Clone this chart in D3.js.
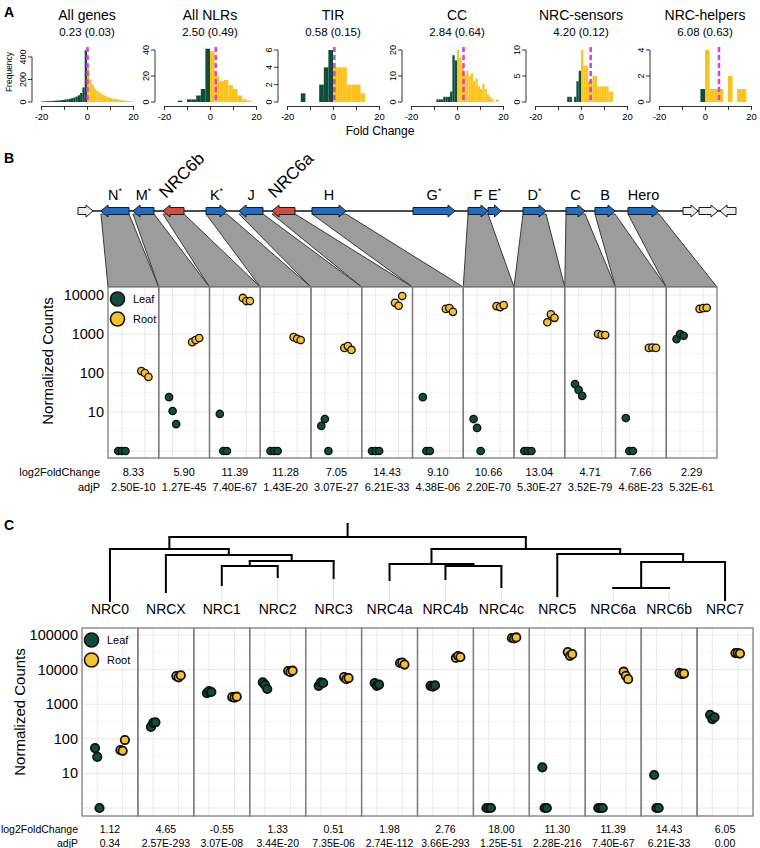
<!DOCTYPE html>
<html>
<head>
<meta charset="utf-8">
<script src="https://cdn.jsdelivr.net/npm/d3@7"></script>
<style>
body { margin: 0; background: #fff; }
text { font-family: "Liberation Sans", Arial, sans-serif; }
</style>
</head>
<body>
<script>
// ---------- panel A: fold change histograms ----------
var histTitles = ["All genes", "All NLRs", "TIR", "CC", "NRC-sensors", "NRC-helpers"];
var histSubs = ["0.23 (0.03)", "2.50 (0.49)", "0.58 (0.15)", "2.84 (0.64)", "4.20 (0.12)", "6.08 (0.63)"];
var histMeans = [0.23, 2.50, 0.58, 2.84, 4.20, 6.08];
var histYTicks = [[0, 200, 400], [0, 20, 40], [0, 2, 4, 6], [0, 10, 20], [0, 5, 10], [0, 2, 4]];
var histYTop = [462, 40, 6, 20, 10, 4];
var histBinStart = [-20, -14, -14, -9, -6, -2];
var histBinWidth = [1, 2, 2, 1, 1, 2];
var histCounts = [
  [5, 6, 7, 8, 9, 11, 12, 14, 16, 18, 21, 24, 28, 33, 40, 48, 60, 80, 130, 460,
   300, 200, 150, 120, 100, 85, 70, 60, 50, 42, 36, 30, 26, 22, 18, 15, 12, 10, 8, 6],
  [1, 0, 2, 2, 5, 10, 41, 39, 20, 16, 17, 13, 10, 5, 2, 1],
  [1, 0, 0, 0, 2, 4, 6, 4, 4, 4, 2, 2, 2, 1],
  [1, 1, 1, 2, 2, 2, 4, 18, 16, 20, 17, 14, 10, 12, 10, 11, 8, 9, 6, 5, 7, 5, 3, 2, 1, 0, 1],
  [1, 1, 0, 1, 4, 6, 10, 7, 7, 4, 4, 5, 5, 3, 3, 3, 3, 3, 2, 2],
  [1, 4, 1, 1, 1, 0, 2, 0, 1, 1]
];
var histXTicks = [-20, -10, 0, 10, 20];

// ---------- panel B: gene cluster ----------
var geneNames = ["", "N", "M", "NRC6b", "K", "J", "NRC6a", "H", "G", "F", "E", "D", "C", "B", "Hero", "", "", ""];
var geneStar = [0, 1, 1, 0, 1, 0, 0, 0, 1, 0, 1, 1, 0, 0, 0, 0, 0, 0];
var geneStart = [0, 2.3, 5.5, 8.5, 12.8, 16.1, 19.4, 23.4, 33.5, 39.0, 41.0, 44.5, 48.8, 51.7, 55.0, 60.5, 62.1, 64.2];
var geneEnd = [1.5, 5.1, 7.6, 10.6, 14.9, 18.5, 21.7, 26.8, 37.7, 41.0, 42.3, 46.8, 50.7, 53.7, 58.1, 62.0, 64.0, 65.8];
var geneStrand = [1, -1, -1, -1, 1, -1, -1, 1, 1, 1, 1, 1, 1, 1, 1, 1, 1, -1];
var geneType = ["other", "nlr", "nlr", "nrc", "nlr", "nlr", "nrc", "nlr", "nlr", "nlr", "nlr", "nlr", "nlr", "nlr", "nlr", "other", "other", "other"];
var geneFacet = [-1, 0, 1, 2, 3, 4, 5, 6, -1, 7, -1, 8, 9, 10, 11, -1, -1, -1];
var locusLength = 65.8;

var bNames = ["N", "M", "NRC6b", "K", "J", "NRC6a", "H", "F", "D", "C", "B", "Hero"];
var bLeaf = [[1, 1, 1], [24, 10.6, 4.9], [8.9, 1, 1], [1, 1, 1], [4.4, 6.6, 1], [1, 1, 1],
             [24, 1, 1], [6.6, 3.9, 1], [1, 1, 1], [52, 37, 26], [7, 1, 1], [740, 1000, 900]];
var bRoot = [[112, 100, 79], [620, 700, 790], [8400, 7000, 7000], [830, 750, 700], [440, 490, 390],
             [6300, 5300, 9400], [4400, 4600, 3700], [5200, 4900, 5500], [2000, 3200, 2600],
             [1000, 940, 940], [440, 450, 440], [4400, 4600, 4700]];
var bLfc = ["8.33", "5.90", "11.39", "11.28", "7.05", "14.43", "9.10", "10.66", "13.04", "4.71", "7.66", "2.29"];
var bPadj = ["2.50E-10", "1.27E-45", "7.40E-67", "1.43E-20", "3.07E-27", "6.21E-33", "4.38E-06", "2.20E-70", "5.30E-27", "3.52E-79", "4.68E-23", "5.32E-61"];
var bTicks = [10, 100, 1000, 10000];

// ---------- panel C: NRC helpers ----------
var cNames = ["NRC0", "NRCX", "NRC1", "NRC2", "NRC3", "NRC4a", "NRC4b", "NRC4c", "NRC5", "NRC6a", "NRC6b", "NRC7"];
var cLeaf = [[54, 30, 1], [220, 290, 300], [2100, 2400, 2250], [4300, 3600, 2750], [3400, 4300, 4100],
             [4100, 3400, 3700], [3400, 3200, 3500], [1, 1, 1], [15, 1, 1], [1, 1, 1], [9, 1, 1], [490, 370, 420]];
var cRoot = [[47, 45, 92], [6500, 6000, 6800], [1600, 1550, 1650], [9100, 8500, 9300], [6100, 5300, 5700],
             [15500, 16000, 14000], [21700, 24700, 23000], [82000, 80000, 85000], [32000, 25000, 28000],
             [8700, 6600, 5300], [8000, 7400, 7700], [30000, 30000, 29000]];
var cLfc = ["1.12", "4.65", "-0.55", "1.33", "0.51", "1.98", "2.76", "18.00", "11.30", "11.39", "14.43", "6.05"];
var cPadj = ["0.34", "2.57E-293", "3.07E-08", "3.44E-20", "7.35E-06", "2.74E-112", "3.66E-293", "1.25E-51", "2.28E-216", "7.40E-67", "6.21E-33", "0.00"];
var cTicks = [10, 100, 1000, 10000, 100000];

// tree: d = depth of each node (root at top)
var treeData = {d: 14, children: [
  {d: 26, children: [
    {name: "NRC0", d: 79},
    {d: 32, children: [
      {name: "NRCX", d: 70},
      {d: 38, children: [
        {d: 43, children: [{name: "NRC1", d: 63}, {name: "NRC2", d: 55}]},
        {name: "NRC3", d: 56}]}]}]},
  {d: 26, children: [
    {d: 41, children: [
      {name: "NRC4a", d: 58},
      {d: 43, children: [{name: "NRC4b", d: 57}, {name: "NRC4c", d: 65}]}]},
    {d: 31, children: [
      {name: "NRC5", d: 74},
      {d: 39, children: [
        {d: 65, children: [{name: "NRC6a", d: 65}, {name: "NRC6b", d: 65}]},
        {name: "NRC7", d: 78}]}]}]}]};

var leafCol = "#0f4d3d";
var rootCol = "#f6c12b";

var svg = d3.select("body").append("svg")
    .attr("width", 760)
    .attr("height", 848);

function letter(t, x, y) {
  svg.append("text").attr("x", x).attr("y", y).text(t)
    .attr("font-size", 14).attr("font-weight", "bold");
}

// ================= A =================
letter("A", 4, 17);
var histLeft = [41, 164, 287, 411, 535, 659];
var histW = 92;

histTitles.forEach(function (title, i) {
  var x = d3.scaleLinear().domain([-20, 20]).range([histLeft[i], histLeft[i] + histW]);
  var y = d3.scaleLinear().domain([0, histYTop[i]]).range([102, 50]);
  var g = svg.append("g");
  var w = histBinWidth[i];

  g.selectAll("rect")
    .data(histCounts[i])
    .enter()
    .append("rect")
    .attr("x", function (d, j) { return x(histBinStart[i] + j * w); })
    .attr("width", x(w) - x(0))
    .attr("y", function (d) { return y(d); })
    .attr("height", function (d) { return y(0) - y(d); })
    .attr("fill", function (d, j) { return histBinStart[i] + j * w < 0 ? leafCol : "#fbc31c"; });

  g.append("line")
    .attr("x1", x(histMeans[i])).attr("x2", x(histMeans[i]))
    .attr("y1", 47).attr("y2", y(0))
    .attr("stroke", "#e33be3").attr("stroke-width", 2.6)
    .attr("stroke-dasharray", "5,3");

  var xa = g.append("g")
    .attr("transform", "translate(0,106)")
    .call(d3.axisBottom(x).tickValues(histXTicks)
      .tickFormat(function (d) { return d % 20 === 0 ? d : ""; })
      .tickSize(4).tickSizeOuter(0));
  xa.selectAll("text").attr("font-size", 9.5).attr("font-family", "Liberation Sans, Arial");
  xa.selectAll("path, line").attr("stroke-width", 0.8);

  var ax = histLeft[i] - 9;
  var ticks = histYTicks[i];
  g.append("line").attr("x1", ax).attr("x2", ax)
    .attr("y1", y(0)).attr("y2", y(ticks[ticks.length - 1]))
    .attr("stroke", "#000").attr("stroke-width", 0.8);
  g.selectAll(".yt").data(ticks).enter().append("line")
    .attr("x1", ax - 4).attr("x2", ax)
    .attr("y1", function (d) { return y(d); }).attr("y2", function (d) { return y(d); })
    .attr("stroke", "#000").attr("stroke-width", 0.8);
  g.selectAll(".yl").data(ticks).enter().append("text")
    .attr("transform", function (d) { return "translate(" + (ax - 6) + "," + y(d) + ") rotate(-90)"; })
    .attr("text-anchor", "middle").attr("font-size", 9)
    .text(function (d) { return d; });

  g.append("text").attr("x", x(0)).attr("y", 20)
    .attr("text-anchor", "middle").attr("font-size", 14).text(title);
  g.append("text").attr("x", x(0)).attr("y", 36)
    .attr("text-anchor", "middle").attr("font-size", 11.5).text(histSubs[i]);
});

svg.append("text").attr("transform", "translate(12,72) rotate(-90)")
  .attr("text-anchor", "middle").attr("font-size", 8.5).text("Frequency");
svg.append("text").attr("x", 380).attr("y", 135)
  .attr("text-anchor", "middle").attr("font-size", 12).text("Fold Change");

// ================= shared dot panel =================
function dotPanel(o) {
  var band = d3.scaleBand().domain(o.names).range([o.left, o.right]);
  var bw = band.bandwidth();
  var cond = d3.scaleOrdinal().domain(["Leaf", "Root"]).range([0.273, 0.727]);
  var y = d3.scaleLog().domain(o.yDomain).range(o.yRange);
  var g = svg.append("g");
  var majors = [1].concat(o.ticks);
  var minors = majors.map(function (v) { return v * Math.sqrt(10); });
  var inside = function (v) { return y(v) > o.top && y(v) < o.bottom; };

  o.names.forEach(function (n) {
    var x0 = band(n);
    g.append("rect").attr("x", x0).attr("y", o.top).attr("width", bw)
      .attr("height", o.bottom - o.top).attr("fill", "#fff");
    minors.filter(inside).forEach(function (v) {
      g.append("line").attr("x1", x0).attr("x2", x0 + bw).attr("y1", y(v)).attr("y2", y(v))
        .attr("stroke", "#f2f2f2").attr("stroke-width", 0.6);
    });
    majors.filter(inside).forEach(function (v) {
      g.append("line").attr("x1", x0).attr("x2", x0 + bw).attr("y1", y(v)).attr("y2", y(v))
        .attr("stroke", "#e6e6e6").attr("stroke-width", 0.9);
    });
    ["Leaf", "Root"].forEach(function (c) {
      var xc = x0 + cond(c) * bw;
      g.append("line").attr("x1", xc).attr("x2", xc).attr("y1", o.top).attr("y2", o.bottom)
        .attr("stroke", "#e6e6e6").attr("stroke-width", 0.9);
    });
  });
  o.names.forEach(function (n) {
    g.append("rect").attr("x", band(n)).attr("y", o.top).attr("width", bw)
      .attr("height", o.bottom - o.top).attr("fill", "none")
      .attr("stroke", "#7d7d7d").attr("stroke-width", 1.3);
  });

  var jit = o.jitter;
  function drawSet(vals, c, col) {
    o.names.forEach(function (n, i) {
      g.selectAll(null).data(vals[i]).enter().append("circle")
        .attr("cx", function (d, k) { return band(n) + (cond(c) + jit[k]) * bw; })
        .attr("cy", function (d) { return y(d); })
        .attr("r", o.r)
        .attr("fill", col).attr("stroke", "#111").attr("stroke-width", o.sw);
    });
  }
  drawSet(o.leaf, "Leaf", leafCol);
  drawSet(o.root, "Root", rootCol);

  g.selectAll(".tk").data(o.ticks).enter().append("text")
    .attr("x", o.left - 4).attr("y", function (d) { return y(d) + 5; })
    .attr("text-anchor", "end").attr("font-size", 14.5)
    .text(function (d) { return d; });
  g.append("text")
    .attr("transform", "translate(" + o.labelX + "," + o.labelY + ") rotate(-90)")
    .attr("text-anchor", "middle").attr("font-size", 15).text("Normalized Counts");

  // legend
  [["Leaf", leafCol], ["Root", rootCol]].forEach(function (e, k) {
    var ly = o.top + 12 + k * 20;
    g.append("circle").attr("cx", o.left + 9.5).attr("cy", ly).attr("r", 7)
      .attr("fill", e[1]).attr("stroke", "#111").attr("stroke-width", 1.6);
    g.append("text").attr("x", o.left + 25).attr("y", ly + 4)
      .attr("font-size", 11).text(e[0]);
  });

  // stats rows
  g.append("text").attr("x", o.statX).attr("y", o.statY1).attr("text-anchor", "end")
    .attr("font-size", o.statFont).text("log2FoldChange");
  g.append("text").attr("x", o.statX).attr("y", o.statY2).attr("text-anchor", "end")
    .attr("font-size", o.statFont).text("adjP");
  o.names.forEach(function (n, i) {
    g.append("text").attr("x", band(n) + bw / 2).attr("y", o.statY1).attr("text-anchor", "middle")
      .attr("font-size", o.statFont).text(o.lfc[i]);
    g.append("text").attr("x", band(n) + bw / 2).attr("y", o.statY2).attr("text-anchor", "middle")
      .attr("font-size", o.statFont).text(o.padj[i]);
  });
  return band;
}

// ================= B =================
letter("B", 4, 163);
var bLeft = 108, bRight = 717, bTop = 287, bBottom = 458;
var bBand = d3.scaleBand().domain(bNames).range([bLeft, bRight]);
var kb = d3.scaleLinear().domain([0, locusLength]).range([78, 736]);
var trackY = 211;

var gTrack = svg.append("g");
// links from genes to facets
geneNames.forEach(function (n, i) {
  if (geneFacet[i] < 0) return;
  var f = bNames[geneFacet[i]];
  var pts = [[kb(geneStart[i]), trackY + 3], [kb(geneEnd[i]), trackY + 3],
             [bBand(f) + bBand.bandwidth(), bTop], [bBand(f), bTop]];
  gTrack.append("polygon")
    .attr("points", pts.map(function (p) { return p.join(","); }).join(" "))
    .attr("fill", "#9c9c9c").attr("stroke", "#3a3a3a").attr("stroke-width", 1);
});
gTrack.append("line").attr("x1", kb(0)).attr("x2", kb(locusLength))
  .attr("y1", trackY).attr("y2", trackY).attr("stroke", "#111").attr("stroke-width", 1.3);

function arrowPath(s, e, strand) {
  var bh = 3.5, hh = 6, hl = Math.min(7, (e - s) * 0.5);
  var pts;
  if (strand > 0) {
    pts = [[s, -bh], [e - hl, -bh], [e - hl, -hh], [e, 0], [e - hl, hh], [e - hl, bh], [s, bh]];
  } else {
    pts = [[e, -bh], [s + hl, -bh], [s + hl, -hh], [s, 0], [s + hl, hh], [s + hl, bh], [e, bh]];
  }
  return "M" + pts.map(function (p) { return p[0] + "," + (trackY + p[1]); }).join("L") + "Z";
}
var typeFill = {other: "#ececec", nlr: "#1f6cc4", nrc: "#d44a3c"};
geneNames.forEach(function (n, i) {
  var s = kb(geneStart[i]), e = kb(geneEnd[i]);
  gTrack.append("path").attr("d", arrowPath(s, e, geneStrand[i]))
    .attr("fill", typeFill[geneType[i]]).attr("stroke", "#1a1a1a").attr("stroke-width", 1);
  if (!n) return;
  if (geneType[i] === "nrc") {
    gTrack.append("text")
      .attr("transform", "translate(" + (s + 3) + "," + (trackY - 12) + ") rotate(-45)")
      .attr("font-size", 17).text(n);
  } else {
    var t = gTrack.append("text").attr("x", (s + e) / 2).attr("y", trackY - 11)
      .attr("text-anchor", "middle").attr("font-size", 14.5).text(n);
    if (geneStar[i]) t.append("tspan").attr("font-size", 9).attr("dy", -6).text("*");
  }
});

dotPanel({
  names: bNames, left: bLeft, right: bRight, top: bTop, bottom: bBottom,
  yDomain: [1, 10000], yRange: [451, 295], ticks: bTicks,
  leaf: bLeaf, root: bRoot, lfc: bLfc, padj: bPadj,
  r: 3.7, sw: 1.3, jitter: [-0.07, 0.0, 0.07], labelX: 53, labelY: 361,
  statX: 100, statY1: 476, statY2: 491, statFont: 11
});

// ================= C =================
letter("C", 4, 530);
var cLeft = 82, cRight = 753, cTop = 628, cBottom = 816;
var cBand = d3.scaleBand().domain(cNames).range([cLeft, cRight]);
var yTree = d3.scaleLinear().domain([0, 80]).range([523, 603]);

var root = d3.hierarchy(treeData);
root.eachAfter(function (n) {
  if (n.children) {
    n.x = (n.children[0].x + n.children[n.children.length - 1].x) / 2;
  } else {
    n.x = cBand(n.data.name) + cBand.bandwidth() / 2;
  }
});
var gTree = svg.append("g");
root.leaves().forEach(function (l) {
  gTree.append("line").attr("x1", l.x).attr("x2", l.x)
    .attr("y1", yTree(l.data.d)).attr("y2", yTree(79))
    .attr("stroke", "#e4e4e4").attr("stroke-width", 1);
});
gTree.append("line").attr("x1", root.x).attr("x2", root.x)
  .attr("y1", yTree(0)).attr("y2", yTree(root.data.d))
  .attr("stroke", "#000").attr("stroke-width", 2);
root.descendants().forEach(function (n) {
  if (!n.children) return;
  var c = n.children;
  gTree.append("line").attr("x1", c[0].x).attr("x2", c[c.length - 1].x)
    .attr("y1", yTree(n.data.d)).attr("y2", yTree(n.data.d))
    .attr("stroke", "#000").attr("stroke-width", 2).attr("stroke-linecap", "square");
  c.forEach(function (ch) {
    gTree.append("line").attr("x1", ch.x).attr("x2", ch.x)
      .attr("y1", yTree(n.data.d)).attr("y2", yTree(ch.data.d))
      .attr("stroke", "#000").attr("stroke-width", 2);
  });
});
cNames.forEach(function (n) {
  gTree.append("text").attr("x", cBand(n) + cBand.bandwidth() / 2).attr("y", 614)
    .attr("text-anchor", "middle").attr("font-size", 14).text(n);
});

dotPanel({
  names: cNames, left: cLeft, right: cRight, top: cTop, bottom: cBottom,
  yDomain: [1, 100000], yRange: [808, 635], ticks: cTicks,
  leaf: cLeaf, root: cRoot, lfc: cLfc, padj: cPadj,
  r: 4.2, sw: 1.8, jitter: [-0.04, 0.0, 0.04], labelX: 25, labelY: 712,
  statX: 78, statY1: 833, statY2: 847, statFont: 10.5
});
</script>
</body>
</html>
